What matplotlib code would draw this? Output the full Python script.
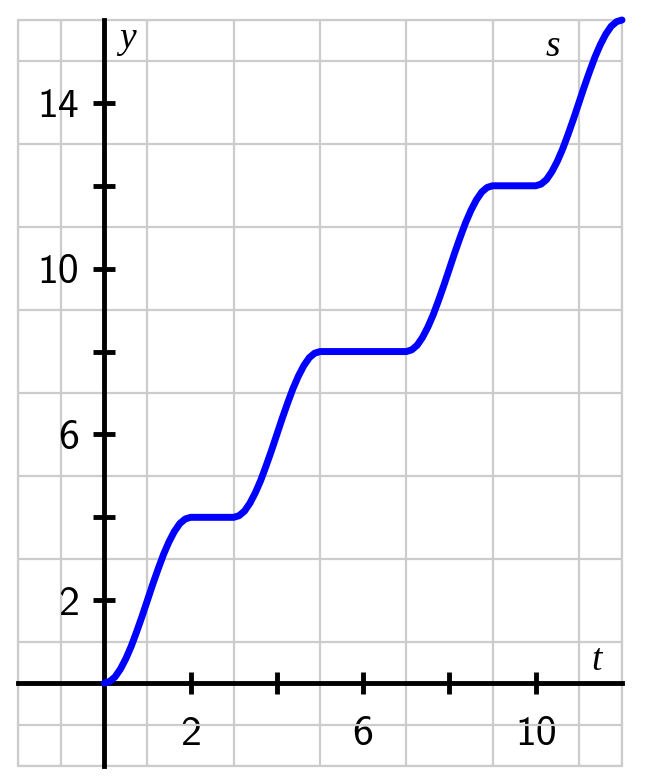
import matplotlib.pyplot as plt

# s(t)
t = [0, 0.125, 0.25, 0.375, 0.5, 0.625, 0.75, 0.875, 1, 1.125, 1.25, 1.375, 1.5, 1.625, 1.75, 1.875, 2,
     3, 3.125, 3.25, 3.375, 3.5, 3.625, 3.75, 3.875, 4, 4.125, 4.25, 4.375, 4.5, 4.625, 4.75, 4.875, 5,
     7, 7.125, 7.25, 7.375, 7.5, 7.625, 7.75, 7.875, 8, 8.125, 8.25, 8.375, 8.5, 8.625, 8.75, 8.875, 9,
     10, 10.125, 10.25, 10.375, 10.5, 10.625, 10.75, 10.875, 11, 11.125, 11.25, 11.375, 11.5, 11.625, 11.75, 11.875, 12]
s = [0, 0.04, 0.15, 0.34, 0.59, 0.89, 1.24, 1.61, 2, 2.39, 2.76, 3.11, 3.41, 3.66, 3.85, 3.96, 4,
     4, 4.04, 4.15, 4.34, 4.59, 4.89, 5.24, 5.61, 6, 6.39, 6.76, 7.11, 7.41, 7.66, 7.85, 7.96, 8,
     8, 8.04, 8.15, 8.34, 8.59, 8.89, 9.24, 9.61, 10, 10.39, 10.76, 11.11, 11.41, 11.66, 11.85, 11.96, 12,
     12, 12.04, 12.15, 12.34, 12.59, 12.89, 13.24, 13.61, 14, 14.39, 14.76, 15.11, 15.41, 15.66, 15.85, 15.96, 16]

xticks = [2, 4, 6, 8, 10]
xlabels = ['2', '', '6', '', '10']
yticks = [2, 4, 6, 8, 10, 12, 14]
ylabels = ['2', '', '6', '', '10', '', '14']

fig = plt.figure(figsize=(6.51, 7.82), dpi=100)
ax = fig.add_axes([18/651, 16/782, 604/651, 746/782])
ax.set_xlim(-2, 12)
ax.set_ylim(-2, 16)

ax.set_xticks(range(-2, 13), minor=True)
ax.set_yticks(range(-2, 17), minor=True)
ax.grid(which='minor', color='#cccccc', lw=1.6)
ax.patch.set_edgecolor('#cccccc')
ax.patch.set_linewidth(1.6)

ax.spines['left'].set_position(('data', 0))
ax.spines['bottom'].set_position(('data', 0))
ax.spines['top'].set_visible(False)
ax.spines['right'].set_visible(False)
for sp in ['left', 'bottom']:
    ax.spines[sp].set_linewidth(3.5)
    ax.spines[sp].set_zorder(3)

ax.set_xticks(xticks)
ax.set_xticklabels(xlabels, family='cmss10')
ax.set_yticks(yticks)
ax.set_yticklabels(ylabels, family='cmss10')
ax.tick_params(which='major', direction='inout', length=16, width=3.5, labelsize=30)
ax.tick_params(axis='x', pad=16)
ax.tick_params(axis='y', pad=10)
ax.tick_params(which='minor', length=0)

ax.plot(t, s, color='#0000ff', lw=5, solid_capstyle='round', solid_joinstyle='round',
        zorder=4, clip_on=False)

ax.text(0.35, 15.55, 'y', fontsize=27, family='Liberation Serif', style='italic', va='center')
ax.text(10.4, 15.35, 's', fontsize=27, family='Liberation Serif', style='italic',
        ha='center', va='center')
ax.text(11.4, 0.55, 't', fontsize=27, family='Liberation Serif', style='italic',
        ha='center', va='center')

fig.savefig('out.png', dpi=100)
